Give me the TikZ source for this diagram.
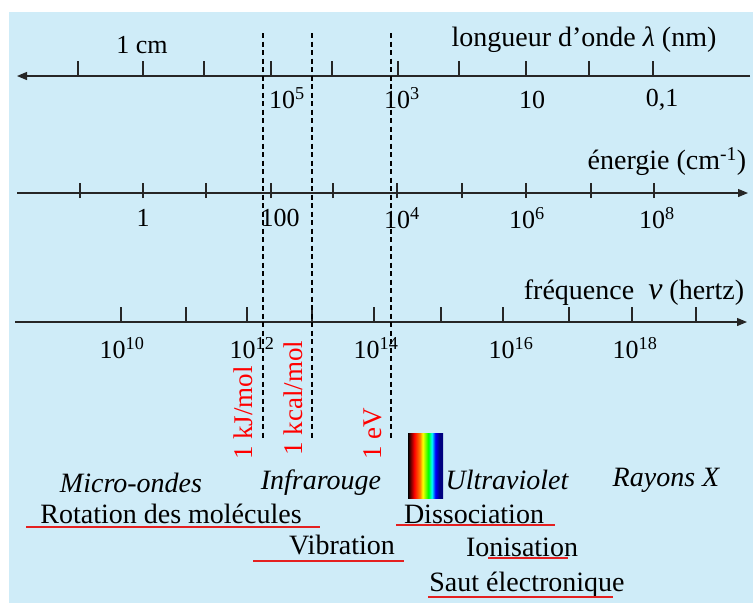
\documentclass[tikz,border=0pt]{standalone}
\usepackage{fontspec}
\setmainfont{Liberation Serif}
\definecolor{skyback}{RGB}{207,236,248}
\definecolor{labred}{RGB}{255,0,0}
\definecolor{linered}{RGB}{228,32,32}
\usetikzlibrary{arrows.meta,positioning}
\pgfdeclarehorizontalshading{spectrum}{100bp}{color(0bp)=(black); color(25bp)=(black); color(34bp)=(red); color(42bp)=(orange); color(46bp)=(yellow); color(54bp)=(green); color(59bp)=(cyan); color(64bp)=(blue); color(70bp)=(blue!50!black); color(100bp)=(blue!50!black)}

\begin{document}
\begin{tikzpicture}[x=1pt, y=-1pt,
  axisline/.style={line width=1.2pt, black!85},
  tickmark/.style={line width=1.2pt, black!85},
  guide/.style={line width=1.1pt, dash pattern=on 5pt off 3.5pt},
  lbl/.style={font=\fontsize{26}{30}\selectfont, inner sep=0pt},
  axname/.style={font=\fontsize{28}{32}\selectfont, inner sep=0pt},
  band/.style={font=\fontsize{28}{32}\selectfont\itshape, inner sep=0pt},
  process/.style={font=\fontsize{28}{32}\selectfont, inner sep=0pt},
  redlbl/.style={font=\fontsize{27}{30}\selectfont, text=labred, rotate=90, inner sep=0pt},
  uline/.style={linered, line width=1.5pt}
]
  \useasboundingbox (0,0) rectangle (753,603);
  \fill[skyback] (9,12) rectangle (753,603);

  % wavelength axis
  \coordinate (wl-r) at (750,76);
  \coordinate (wl-l) at (17,76);
  \draw[axisline, -{Triangle[length=10pt,width=8pt]}] (wl-r) -- (wl-l);
  \foreach \x in {78,143,204,271,332,398,459,526,589,653}
    \draw[tickmark] (\x,76) -- (\x,61);

  % energy axis
  \coordinate (en-l) at (17,193);
  \coordinate (en-r) at (748,193);
  \draw[axisline, -{Triangle[length=10pt,width=8pt]}] (en-l) -- (en-r);
  \foreach \x in {80,143,206,271,333,397,462,526,591,654}
    \draw[tickmark] (\x,198) -- (\x,183);

  % frequency axis
  \coordinate (fr-l) at (15,322);
  \coordinate (fr-r) at (747,322);
  \draw[axisline, -{Triangle[length=10pt,width=8pt]}] (fr-l) -- (fr-r);
  \foreach \x in {121,186,247,312,374,441,503,569,632,696}
    \draw[tickmark] (\x,322) -- (\x,307);

  % dashed guides
  \draw[guide] (263,33) -- (263,438);
  \draw[guide] (312,33) -- (312,438);
  \draw[guide] (391,33) -- (391,438);

  % axis labels
  \node[lbl] (cm) at (142,45) {1 cm};
  \node[lbl] (wl5) at (287,98) {10\textsuperscript{5}};
  \node[lbl] (wl3) at (402,98) {10\textsuperscript{3}};
  \node[lbl] (wl1) at (532,100) {10};
  \node[lbl] (wl01) at (662,100) {0,1};
  \node[axname] (wlname) at (584,40) {longueur d'onde \textit{λ} (nm)};

  \node[lbl] (en0) at (143,218) {1};
  \node[lbl] (en2) at (280,218) {100};
  \node[lbl] (en4) at (402,218) {10\textsuperscript{4}};
  \node[lbl] (en6) at (527,218) {10\textsuperscript{6}};
  \node[lbl] (en8) at (657,218) {10\textsuperscript{8}};
  \node[axname] (enname) at (667,162) {énergie (cm\textsuperscript{-1})};

  \node[lbl] (fr10) at (122,348) {10\textsuperscript{10}};
  \node[lbl] (fr12) at (252,348) {10\textsuperscript{12}};
  \node[lbl] (fr14) at (376,348) {10\textsuperscript{14}};
  \node[lbl] (fr16) at (511,348) {10\textsuperscript{16}};
  \node[lbl] (fr18) at (635,348) {10\textsuperscript{18}};
  \node[axname] (frname) at (634,293) {fréquence \ {\fontsize{32}{32}\selectfont\textit{ν}} (hertz)};

  % energy units
  \node[redlbl] (kj) at (243,413) {1 kJ/mol};
  \node[redlbl] (kcal) at (293,398) {1 kcal/mol};
  \node[redlbl] (ev) at (373,434) {1 eV};

  % visible spectrum
  \shade[shading=spectrum] (408,433) rectangle (443,498);

  % domains
  \node[band] (micro) at (131,483) {Micro-ondes};
  \node[band] (ir) at (321,483) {Infrarouge};
  \node[band] (uv) at (507,480) {Ultraviolet};
  \node[band] (xray) at (666,480) {Rayons X};

  % processes
  \node[process] (rot) at (171,514) {Rotation des molécules};
  \draw[uline] (26,527) -- (320,527);
  \node[process] (vib) at (342,545) {Vibration};
  \draw[uline] (253,561) -- (404,561);
  \node[process] (dis) at (474,514) {Dissociation};
  \draw[uline] (396,525) -- (555,525);
  \node[process] (ion) at (522,547) {Ionisation};
  \draw[uline] (488,558) -- (568,558);
  \node[process] (saut) at (527,585) {Saut électronique};
  \draw[uline] (428,597) -- (613,597);
\end{tikzpicture}
\end{document}
